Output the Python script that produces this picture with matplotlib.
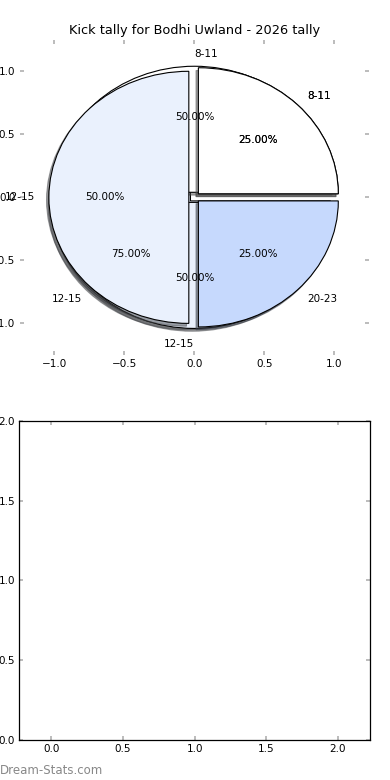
import matplotlib
matplotlib.use('Agg')
import matplotlib.pyplot as plt

# three seasons drawn onto the same pie axes
labels_a = ['8-11', '12-15']
values_a = [1, 3]

labels_b = ['8-11', '12-15']
values_b = [1, 1]

labels_c = ['8-11', '12-15', '20-23']
values_c = [1, 2, 1]

colours = ['#ffffff', '#eaf1fd', '#c6d9fd']
title = 'Kick tally for Bodhi Uwland - 2026 tally'

FS = 7.5

fig = plt.figure(figsize=(3.9, 7.8), dpi=100)
ax = fig.add_axes([0.05, 0.545, 0.897, 0.404])
ax2 = fig.add_axes([0.049, 0.0513, 0.9, 0.409])

z = 1.0
for vals, labs in [(values_a, labels_a), (values_b, labels_b), (values_c, labels_c)]:
    wedges, texts, autotexts = ax.pie(
        vals, labels=labs, colors=colours[:len(vals)],
        explode=[0.04] * len(vals), autopct='%1.2f%%',
        shadow={'ox': -0.012, 'oy': -0.016},
        wedgeprops={'edgecolor': 'black', 'linewidth': 0.8, 'zorder': z},
        textprops={'fontsize': FS})
    # labels sitting straight above / below the centre
    for t in texts:
        x, y = t.get_position()
        if abs(x) < 1e-6:
            t.set_ha('left' if y > 0 else 'right')
            if y < 0:
                t.set_y(y - 0.02)
    z += 0.3

ax.set_aspect('auto')
ax.set_frame_on(False)
ax.set_xlim(-1.25, 1.25)
ax.set_ylim(-1.25, 1.25)
ax.set_xticks([-1.0, -0.5, 0.0, 0.5, 1.0])
ax.set_yticks([-1.0, -0.5, 0.0, 0.5, 1.0])
ax.set_title(title, fontsize=9.3, pad=4)

ax2.set_xlim(-0.225, 2.225)
ax2.set_ylim(0, 2)
ax2.set_xticks([0.0, 0.5, 1.0, 1.5, 2.0])
ax2.set_yticks([0.0, 0.5, 1.0, 1.5, 2.0])
for s in ax2.spines.values():
    s.set_linewidth(0.9)

for a in (ax, ax2):
    a.tick_params(direction='in', length=3, width=1.2, color='#b0b0b0',
                  top=True, right=True, labelsize=FS, pad=3)

fig.text(0.0, 0.004, 'Dream-Stats.com', color='#888888', fontsize=8.5,
         ha='left', va='bottom')

fig.savefig('out.png', dpi=100)
